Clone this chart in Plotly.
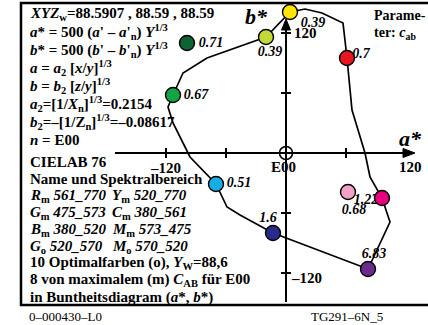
import plotly.graph_objects as go

# CIELAB a*, b* of the marked colours
names = ["Yo", "Ym", "Go", "Gm", "Cm", "Bm", "Rm", "Mo", "Mm", "Cxm"]
a_star = [4, -20, -99, -113, -70, -13, 61, 62, 96, 82]
b_star = [141, 116, 110, 58, -31, -80, 95, -39, -45, -116]
colors = ["#ffe600", "#c4d83a", "#0d6432", "#14a446", "#18ace6",
          "#2a2a8c", "#e8141e", "#f2a2c8", "#e6007e", "#6c2a8e"]
cab_labels = ["0.39", "0.39", "0.71", "0.67", "0.51", "1.6", "0.7", "0.68", "1.22", "6.83"]
# label offsets (same units as the axes)
lab_dx = [23, 4, 24, 23, 23, -5, 14, 6, -16, 6]
lab_dy = [-11, -15, 0, 0, 1, 15, 4, -18, -2, 15]

# boundary of the colour region (hand read)
curve_a = [-113, -103, -79, -20, 4, 19, 36, 57, 61, 66, 79, 84, 96, 104, 82,
           -13, -46, -59, -70, -81, -96, -113, -118, -113]
curve_b = [58, 80, 95, 116, 141, 144, 140, 130, 95, 43, 0, -24, -45, -69, -116,
           -80, -62, -54, -31, -20, -4, 30, 46, 58]

tick_vals = [-120, -60, 60, 120]

text_lines = [
    "<i>XYZ</i><sub>w</sub>=88.5907 , 88.59 , 88.59",
    "<i>a</i>* = 500 (<i>a</i>' – <i>a</i>'<sub>n</sub>) <i>Y</i><sup>1/3</sup>",
    "<i>b</i>* = 500 (<i>b</i>' – <i>b</i>'<sub>n</sub>) <i>Y</i><sup>1/3</sup>",
    "<i>a</i> = <i>a</i><sub>2</sub> [<i>x</i>/<i>y</i>]<sup>1/3</sup>",
    "<i>b</i> = <i>b</i><sub>2</sub> [<i>z</i>/<i>y</i>]<sup>1/3</sup>",
    "<i>a</i><sub>2</sub>=[1/<i>X</i><sub>n</sub>]<sup>1/3</sup>=0.2154",
    "<i>b</i><sub>2</sub>=–[1/Z<sub>n</sub>]<sup>1/3</sup>=–0.08617",
    "<i>n</i> = E00",
]
text_lines2 = [
    "CIELAB 76",
    "Name und Spektralbereich",
    "<i>R</i><sub>m</sub> <i>561_770</i>",
    "<i>G</i><sub>m</sub> <i>475_573</i>",
    "<i>B</i><sub>m</sub> <i>380_520</i>",
    "<i>G</i><sub>o</sub> <i>520_570</i>",
    "10 Optimalfarben (o), <i>Y</i><sub>W</sub>=88,6",
    "8 von maximalem (m) <i>C</i><sub>AB</sub> für E00",
    "in Buntheitsdiagram (<i>a</i>*, <i>b</i>*)",
]
col2_lines = [
    "<i>Y</i><sub>m</sub> <i>520_770</i>",
    "<i>C</i><sub>m</sub> <i>380_561</i>",
    "<i>M</i><sub>m</sub> <i>573_475</i>",
    "<i>M</i><sub>o</sub> <i>570_520</i>",
]

FONT = "Liberation Serif"
X0, Y0 = 286, 153  # pixel position of the origin


def px(x):
    return x - X0


def py(y):
    return Y0 - y


fig = go.Figure()

fig.add_trace(go.Scatter(x=curve_a, y=curve_b, mode="lines",
                         line=dict(color="black", width=1.7), hoverinfo="skip"))

fig.add_trace(go.Scatter(
    x=[a + d for a, d in zip(a_star, lab_dx)],
    y=[b + d for b, d in zip(b_star, lab_dy)],
    mode="text", text=["<b><i>%s</i></b>" % t for t in cab_labels],
    textfont=dict(family=FONT, size=14, color="black"), hoverinfo="skip"))

fig.add_trace(go.Scatter(x=a_star, y=b_star, mode="markers",
                         marker=dict(size=15, color=colors,
                                     line=dict(color="black", width=1.4)),
                         hovertext=names, hoverinfo="text"))

shapes = []
# frame
shapes.append(dict(type="path", xref="x", yref="y",
                   path="M %d %d L %d %d L %d %d L %d %d" % (px(440), py(3), px(21), py(3),
                                                             px(21), py(305), px(440), py(305)),
                   line=dict(color="black", width=2.5)))
# axes
shapes.append(dict(type="line", x0=-171, y0=0, x1=122, y1=0, line=dict(color="black", width=2)))
shapes.append(dict(type="line", x0=0, y0=-149, x1=0, y1=128, line=dict(color="black", width=2)))
shapes.append(dict(type="path", path="M 129 0 L 117 -4.5 L 117 4.5 Z",
                   fillcolor="black", line=dict(color="black", width=1)))
shapes.append(dict(type="path", path="M 0 134 L -4.5 123 L 4.5 123 Z",
                   fillcolor="black", line=dict(color="black", width=1)))
for t in tick_vals:
    shapes.append(dict(type="line", x0=-5, x1=5, y0=t, y1=t, line=dict(color="black", width=2)))
    if t != 120:
        shapes.append(dict(type="line", x0=t, x1=t, y0=-5, y1=5, line=dict(color="black", width=2)))
shapes.append(dict(type="circle", x0=-6.5, x1=6.5, y0=-6.5, y1=6.5,
                   line=dict(color="black", width=1.6)))
for s in shapes:
    s["layer"] = "below"

ann = []


def add_text(x, y, s, size=15, xanchor="left", bold=True):
    if bold:
        s = "<b>" + s + "</b>"
    ann.append(dict(x=x, y=y, text=s, showarrow=False, xanchor=xanchor, yanchor="middle",
                    font=dict(family=FONT, size=size, color="black")))


for i, s in enumerate(text_lines):
    add_text(px(28), py(14 + i * 18), s)
for i, s in enumerate(text_lines2):
    add_text(px(28), py(162 + i * 16.9), s)
for i, s in enumerate(col2_lines):
    add_text(px(110), py(162 + (i + 2) * 16.9), s)

add_text(px(256), py(16), "<i>b*</i>", size=22, xanchor="center")
add_text(px(410), py(138), "<i>a*</i>", size=22, xanchor="center")
add_text(px(372), py(15), "Parame-", size=14)
add_text(px(372), py(33), "ter: <i>c</i><sub>ab</sub>", size=14)
add_text(6, 120, "120", size=15)
add_text(3, -125, "–120", size=15)
add_text(-121, -15, "–120", size=15, xanchor="center")
add_text(-3, -14, "E00", size=15, xanchor="center")
add_text(124, -14, "120", size=15, xanchor="center")
add_text(px(27), py(316), "0–000430–L0", size=13, bold=False)
add_text(px(309), py(316), "TG291–6N_5", size=13, bold=False)

fig.update_layout(
    width=428, height=325, autosize=False,
    margin=dict(l=0, r=0, t=0, b=0),
    paper_bgcolor="white", plot_bgcolor="white",
    showlegend=False, shapes=shapes, annotations=ann,
    xaxis=dict(range=[px(0), px(428)], visible=False, fixedrange=True),
    yaxis=dict(range=[py(325), py(0)], visible=False, fixedrange=True),
)

# drop the default page margin so the figure starts at the window corner
fig.write_html("out.html", config={"displayModeBar": False},
               post_script="document.body.style.margin='0';")
